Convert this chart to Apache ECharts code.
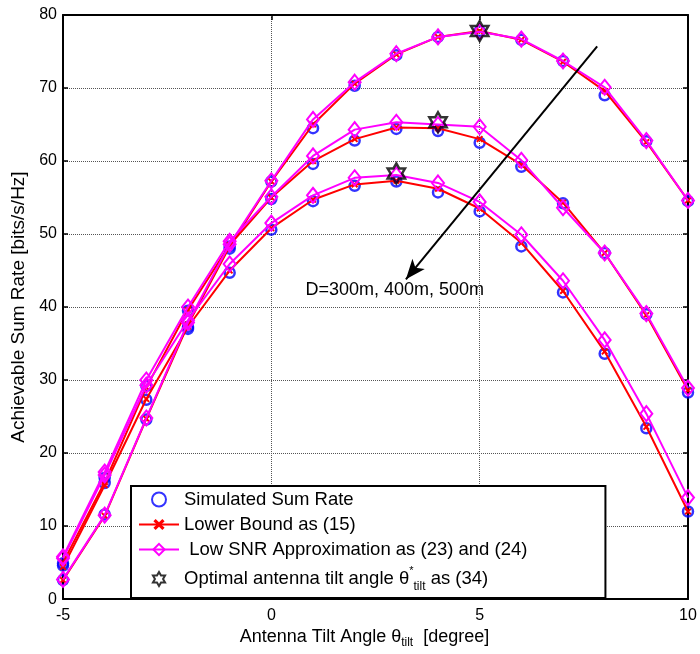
<!DOCTYPE html>
<html>
<head>
<meta charset="utf-8">
<script src="https://cdn.jsdelivr.net/npm/echarts@6/dist/echarts.min.js"></script>
<style>html,body{margin:0;padding:0;background:#fff}#c{width:700px;height:654px}</style>
</head>
<body>
<div id="c"></div>
<script>
// Tilt angles (degree)
var tilt = [-5,-4,-3,-2,-1,0,1,2,3,4,5,6,7,8,9,10];
// D = 300m
var sim300 = [2.6,11.6,24.6,37.3,48.0,57.2,64.5,70.3,74.5,77.0,77.8,76.6,73.7,69.0,62.7,54.5];
var lb300  = [2.6,11.4,24.7,37.6,48.3,57.2,65.0,70.6,74.6,77.0,77.8,76.6,73.6,69.6,62.6,54.6];
var ap300  = [2.7,11.5,24.8,37.9,48.6,57.3,65.7,70.8,74.7,77.0,77.7,76.7,73.7,70.1,62.8,54.6];
// D = 400m
var sim400 = [4.9,16.6,29.2,39.5,48.3,54.8,59.6,62.8,64.4,64.1,62.5,59.2,54.2,47.4,39.0,28.3];
var lb400  = [5.0,16.0,29.0,39.6,48.5,55.0,60.0,63.0,64.6,64.5,63.0,59.5,54.3,47.4,38.9,28.6];
var ap400  = [5.8,17.4,30.0,40.0,49.0,55.1,60.7,64.3,65.3,65.0,64.7,60.1,53.6,47.4,39.1,28.9];
// D = 500m
var sim500 = [4.6,15.9,27.3,37.0,44.7,50.6,54.5,56.6,57.2,55.7,53.1,48.3,42.0,33.6,23.4,12.0];
var lb500  = [4.4,15.6,27.4,37.3,45.0,50.8,54.7,56.8,57.3,56.2,53.5,48.8,42.2,33.9,23.6,12.0];
var ap500  = [5.6,17.0,29.3,38.2,45.9,51.5,55.3,57.7,58.1,57.0,54.4,49.9,43.6,35.5,25.4,13.9];
// Optimal tilt angles
var optX = [5,4,3];
var optY = [77.8,65.3,58.3];
// Tick labels
var xTicks = [-5,0,5,10];
var yTicks = [0,10,20,30,40,50,60,70,80];
// Annotation (data coordinates)
var arrowFrom = [7.82,75.7];
var arrowTo = [3.23,43.8];
var annoPos = [0.82,42.0];
var annoText = 'D=300m, 400m, 500m';

var NAME_SIM = 'Simulated Sum Rate';
var NAME_LB = 'Lower Bound as (15)';
var NAME_AP = ' Low SNR Approximation as (23) and (24)';
var NAME_OPT = 'Optimal antenna tilt angle';

function zip(xs, ys){ return xs.map(function(x,i){ return [x, ys[i]]; }); }

var FONT = '"Liberation Sans", Arial, sans-serif';
var STAR = 'path://M50 0L64.43 25L93.3 25L78.87 50L93.3 75L64.43 75L50 100L35.57 75L6.7 75L21.13 50L6.7 25L35.57 25Z';
var XMARK = 'path://M0 2L2 0L5 3L8 0L10 2L7 5L10 8L8 10L5 7L2 10L0 8L3 5Z';

function simSeries(d){
  return {name: NAME_SIM, type:'scatter', data: zip(tilt,d), symbol:'circle', symbolSize:10, z:2,
    itemStyle:{color:'rgba(0,0,0,0)', borderColor:'#0000ff', borderWidth:2.5}};
}
function lbSeries(d){
  return {name: NAME_LB, type:'line', data: zip(tilt,d), symbol: XMARK, symbolSize:7, z:3,
    lineStyle:{color:'#ff0000', width:2}, itemStyle:{color:'#ff0000'}, showAllSymbol:true};
}
function apSeries(d){
  return {name: NAME_AP, type:'line', data: zip(tilt,d), symbol:'diamond', symbolSize:[12,15], z:4,
    lineStyle:{color:'#ff00ff', width:2}, itemStyle:{color:'rgba(0,0,0,0)', borderColor:'#ff00ff', borderWidth:2}, showAllSymbol:true};
}

var chart = echarts.init(document.getElementById('c'));
var option = {
  animation:false,
  backgroundColor:'#fff',
  textStyle:{fontFamily:FONT},
  grid:{left:63, top:15, right:12, bottom:50, containLabel:false},
  xAxis:[{
    type:'value', min:-5, max:10, interval:5,
    name:'{n|Antenna Tilt Angle θ}{s|tilt}{n|  [degree]}', nameLocation:'middle', nameGap:25,
    nameTextStyle:{padding:[0,22,0,0], rich:{n:{fontSize:18, color:'#000', fontFamily:FONT, lineHeight:24}, s:{fontSize:12, color:'#000', fontFamily:FONT, verticalAlign:'bottom', lineHeight:24}}},
    axisLine:{show:true, onZero:false, lineStyle:{color:'#000', width:2}},
    axisTick:{inside:true, length:5, lineStyle:{color:'#000', width:1.5}},
    axisLabel:{color:'#000', fontSize:16, fontFamily:FONT, margin:8},
    splitLine:{show:true, lineStyle:{color:'#555', type:'dotted', width:1}}
  },{
    type:'value', min:-5, max:10, interval:5, position:'top',
    axisLine:{show:true, onZero:false, lineStyle:{color:'#000', width:2}},
    axisTick:{inside:true, length:5, lineStyle:{color:'#000', width:1.5}},
    axisLabel:{show:false}, splitLine:{show:false}
  }],
  yAxis:[{
    type:'value', min:0, max:80, interval:10,
    name:'Achievable Sum Rate [bits/s/Hz]', nameLocation:'middle', nameGap:32,
    nameTextStyle:{fontSize:19, color:'#000', fontFamily:FONT},
    axisLine:{show:true, onZero:false, lineStyle:{color:'#000', width:2}},
    axisTick:{inside:true, length:5, lineStyle:{color:'#000', width:1.5}},
    axisLabel:{color:'#000', fontSize:16, fontFamily:FONT, margin:6},
    splitLine:{show:true, lineStyle:{color:'#555', type:'dotted', width:1}}
  },{
    type:'value', min:0, max:80, interval:10, position:'right',
    axisLine:{show:true, onZero:false, lineStyle:{color:'#000', width:2}},
    axisTick:{inside:true, length:5, lineStyle:{color:'#000', width:1.5}},
    axisLabel:{show:false}, splitLine:{show:false}
  }],
  legend:{
    orient:'vertical', left:131, top:486,
    data:[NAME_SIM, NAME_LB, NAME_AP, NAME_OPT],
    backgroundColor:'#fff', borderColor:'#000', borderWidth:2, borderRadius:0,
    padding:[4,78,5,7], itemGap:6, itemWidth:40, itemHeight:14,
    selectedMode:false,
    formatter:function(n){
      if(n===NAME_OPT) return '{n|Optimal antenna tilt angle θ}{p|*}{s|tilt}{n| as (34)}';
      return '{n|'+n+'}';
    },
    textStyle:{color:'#000', fontSize:18.5, fontFamily:FONT,
      rich:{n:{fontSize:18.5, color:'#000', fontFamily:FONT, lineHeight:23},
            s:{fontSize:12, color:'#000', fontFamily:FONT, verticalAlign:'bottom', lineHeight:28},
            p:{fontSize:11, color:'#000', fontFamily:FONT, verticalAlign:'top', lineHeight:28}}}
  },
  series:[
    simSeries(sim300), simSeries(sim400), simSeries(sim500),
    lbSeries(lb300), lbSeries(lb400), lbSeries(lb500),
    apSeries(ap300), apSeries(ap400), apSeries(ap500),
    {name: NAME_OPT, type:'scatter', data: zip(optX,optY), symbol: STAR, symbolKeepAspect:true, symbolSize:20, z:5,
     itemStyle:{color:'rgba(0,0,0,0)', borderColor:'#000', borderWidth:2.5},
     markLine:{silent:true, symbol:['none','arrow'], symbolSize:[12,20], label:{show:false},
       lineStyle:{color:'#000', width:2, type:'solid'},
       data:[[{coord:arrowFrom},{coord:arrowTo}]]}}
  ]
};
chart.setOption(option);
var p = chart.convertToPixel({xAxisIndex:0, yAxisIndex:0}, annoPos);
chart.setOption({graphic:[{type:'text', left:p[0], top:p[1]-11, z:10,
  style:{text:annoText, fill:'#000', font:'18px '+FONT}}]});
</script>
</body>
</html>
